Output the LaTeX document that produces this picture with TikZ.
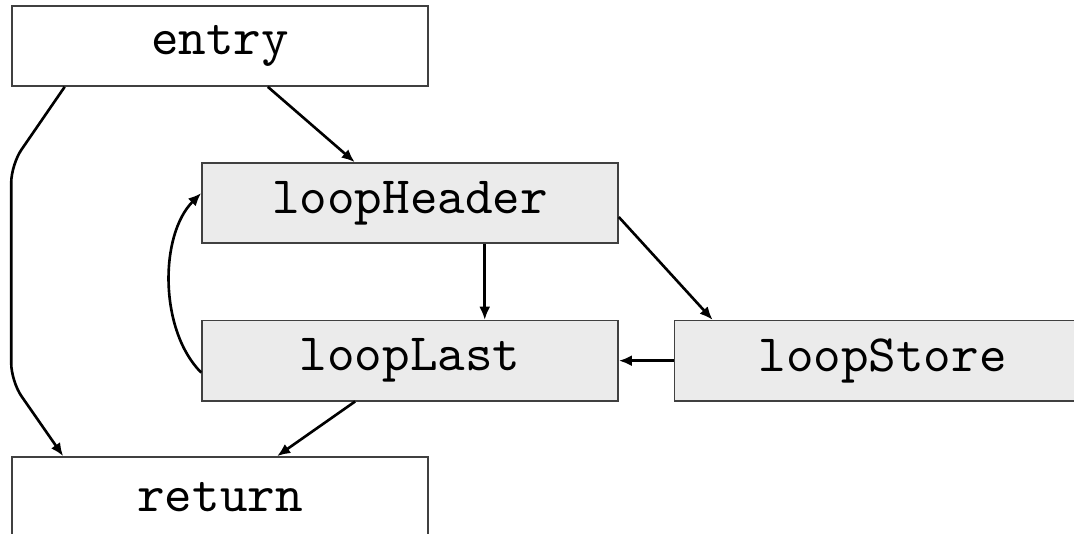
\documentclass[tikz,border=0pt]{standalone}
\usepackage{tikz}
\usetikzlibrary{positioning}
\usetikzlibrary{arrows.meta}

\begin{document}
\begin{tikzpicture}[
    font=\ttfamily,
    block/.style={
        rectangle,
        draw=black!75,
        line width=0.3pt,
        minimum width=2.785cm,
        minimum height=0.536cm,
        inner sep=0pt
    },
    loopblock/.style={
        block,
        fill=black!8
    },
    arrow/.style={-{Latex[length=2.5pt,width=2.1pt]},line width=0.5pt}
]
    \useasboundingbox (0,0) rectangle (7.19,-3.569);

    \node[block] (entry) at (1.473,-0.308) {entry};
    \node[loopblock] (loopHeader) at (2.745,-1.359) {loopHeader};
    \node[loopblock, below=0.509cm of loopHeader] (loopLast) {loopLast};
    \node[loopblock, right=0.368cm of loopLast] (loopStore) {loopStore};
    \node[block] (return) at (1.473,-3.327) {return};

    \draw[arrow] ([xshift=0.32cm]entry.south) -- ([xshift=-0.37cm]loopHeader.north);
    \draw[arrow, rounded corners=0.12cm] ([xshift=-1.04cm]entry.south)
        -- ([yshift=-0.52cm]entry.south west)
        -- ([yshift=0.50cm]return.north west)
        -- ([xshift=-1.05cm]return.north);
    \draw[arrow] ([xshift=0.5cm]loopHeader.south) -- ([xshift=0.5cm]loopLast.north);
    \draw[arrow] ([yshift=-0.094cm]loopHeader.east) -- ([xshift=0.26cm]loopStore.north west);
    \draw[arrow] (loopStore.west) -- (loopLast.east);
    \draw[arrow] ([yshift=-0.08cm]loopLast.west)
        to[out=135, in=225, looseness=0.85] ([yshift=0.067cm]loopHeader.west);
    \draw[arrow] ([xshift=-0.368cm]loopLast.south) -- ([xshift=0.382cm]return.north);
\end{tikzpicture}
\end{document}
